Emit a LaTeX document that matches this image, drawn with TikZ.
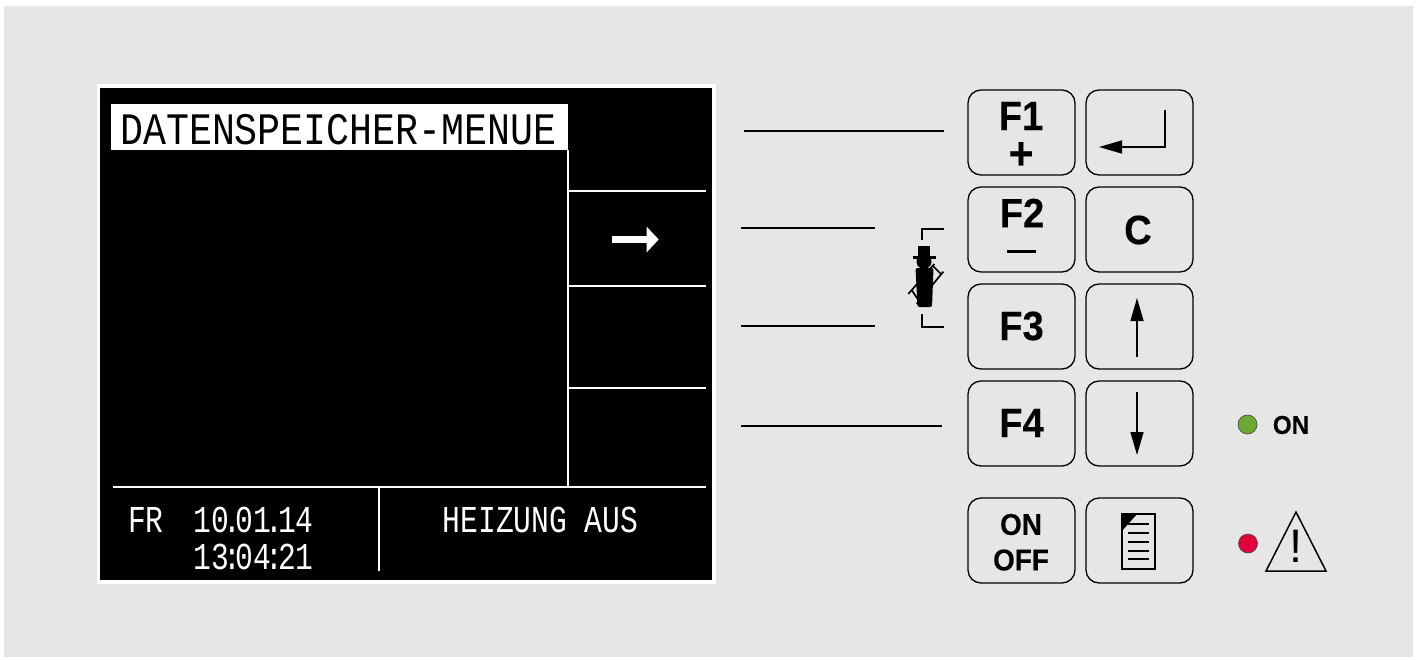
\documentclass[tikz,border=0pt]{standalone}
\usepackage{fontspec}
\setmainfont{Liberation Sans}
\newfontfamily\titlefont[FakeStretch=0.85]{Liberation Mono}
\newfontfamily\lcdfont[FakeStretch=0.78]{Liberation Mono}
\newfontfamily\keyfont[UprightFont=* Bold,FakeStretch=0.93,FakeBold=0.25]{Liberation Sans}
\usetikzlibrary{arrows.meta}
\definecolor{panel}{HTML}{E6E6E6}
\definecolor{ledgreen}{HTML}{6AAA32}
\definecolor{ledred}{HTML}{E2003C}
\tikzset{
  keybox/.style={draw=black,line width=1.3pt,rounded corners=13pt,fill=panel,minimum width=107pt,minimum height=85pt,inner sep=0pt,align=center},
  keylabel/.style={inner sep=0pt,align=center,font=\keyfont\fontsize{41}{39}\selectfont},
  smalllabel/.style={inner sep=0pt,font=\keyfont\fontsize{30}{30}\selectfont},
  lcdline/.style={draw=white,line width=2pt},
  lead/.style={draw=black,line width=2pt},
  lcdtext/.style={text=white,inner sep=0pt,anchor=base west,font=\lcdfont\fontsize{38}{38}\selectfont},
  thinarrow/.style={draw=black,line width=1.5pt,-{Triangle[length=23pt,width=13pt]}},
  led/.style={circle,draw=black!70,line width=.7pt,minimum size=19pt,inner sep=0pt},
}
\begin{document}
\begin{tikzpicture}[x=1pt,y=-1pt]
\useasboundingbox (0,0) rectangle (1419,659);
\fill[panel] (4,6) rectangle (1412.5,657);
% display
\fill[white] (97,84) rectangle (716,584);
\fill[black] (100,88) rectangle (712,580);
\node[fill=white,minimum width=457pt,minimum height=46pt,inner sep=0pt,anchor=north west] (title) at (111,104) {};
\node[inner sep=0pt,anchor=base west,font=\titlefont\fontsize{45}{45}\selectfont] (titletext) at (120,144.5) {DATENSPEICHER-MENUE};
\draw[lcdline] (568,150) -- (568,486);
\draw[lcdline] (568,191) -- (706,191);
\draw[lcdline] (568,286) -- (706,286);
\draw[lcdline] (568,388) -- (706,388);
\draw[lcdline] (113,487) -- (706,487);
\draw[lcdline] (379,488) -- (379,571);
\coordinate (as) at (612,239.5); \coordinate (ae) at (658.7,239.5);
\draw[draw=white,line width=7pt,-{Triangle[length=12pt,width=25pt]}] (as) -- (ae);
\node[lcdtext] (day) at (128,532) {FR};
\node[lcdtext] (date) at (193.5,532) {10\kern-5.6pt.\kern-5.6pt01\kern-5.6pt.\kern-5.6pt14};
\node[lcdtext] (time) at (193.5,569) {13\kern-5.6pt:\kern-5.6pt04\kern-5.6pt:\kern-5.6pt21};
\node[lcdtext] (status) at (442.5,532) {HEIZUNG AUS};
% keys
\node[keybox] (f1) at (1021.5,132.5) {};
\node[keybox] (enter) at (1139.5,132.5) {};
\node[keybox] (f2) at (1021.5,229.5) {};
\node[keybox] (c) at (1139.5,229.5) {};
\node[keybox] (f3) at (1021.5,326.5) {};
\node[keybox] (up) at (1139.5,326.5) {};
\node[keybox] (f4) at (1021.5,423.5) {};
\node[keybox] (down) at (1139.5,423.5) {};
\node[keybox] (onoff) at (1021.5,540.5) {};
\node[keybox] (doc) at (1139.5,540.5) {};
\node[keylabel] (f1t) at (1021,135.5) {F1\\{\fontsize{46}{39}\selectfont +}};
\node[keylabel] (f2t) at (1022,213) {F2};
\draw[line width=3pt] (1007,251) -- (1036,251);
\node[keylabel] (ct) at (1138,230) {C};
\node[keylabel] (f3t) at (1021.5,326) {F3};
\node[keylabel] (f4t) at (1021.5,423) {F4};
\node[smalllabel] (ont) at (1021,524.5) {ON};
\node[smalllabel] (offt) at (1021,560) {OFF};
% key symbols
\coordinate (e1) at (1165,110); \coordinate (e2) at (1165,147); \coordinate (e3) at (1099,147);
\draw[thinarrow] (e1) -- (e2) -- (e3);
\coordinate (u1) at (1137,357); \coordinate (u2) at (1137,298);
\draw[thinarrow] (u1) -- (u2);
\coordinate (d1) at (1137,392); \coordinate (d2) at (1137,455);
\draw[thinarrow] (d1) -- (d2);
% document icon
\draw[line width=2pt] (1122,514) rectangle (1155,569);
\fill (1121,513) -- (1138,513) -- (1121,532) -- cycle;
\foreach \yy in {524,533,542,551,559} \draw[line width=1.3pt] (1128,\yy) -- (1149,\yy);
% leads
\coordinate (l1a) at (744,131); \coordinate (l1b) at (944,131);
\coordinate (l2a) at (741,228); \coordinate (l2b) at (875,228);
\coordinate (l3a) at (741,326); \coordinate (l3b) at (875,326);
\coordinate (l4a) at (741,426); \coordinate (l4b) at (942,426);
\draw[lead] (l1a) -- (l1b);
\draw[lead] (l2a) -- (l2b);
\draw[lead] (l3a) -- (l3b);
\draw[lead] (l4a) -- (l4b);
% sweep
\draw[line width=1.6pt] (922,240) -- (922,229) -- (944,229);
\draw[line width=1.6pt] (922,314) -- (922,327) -- (944,327);
\draw[line width=1.7pt] (943.3,271.7) -- (916.7,304);
\draw[line width=1.7pt] (934.3,264) -- (908.3,294);
\draw[line width=1.7pt] (933,266) -- (941,274);
\draw[line width=1.7pt] (911.7,290) -- (918.3,300);
\fill (918,246) rectangle (930,256);
\fill (913,255.5) rectangle (936,258.5);
\fill (924,261.5) circle (7.5);
\fill[rounded corners=2pt] (915.5,268) -- (933.5,268) -- (932,307) -- (917.5,307) -- cycle;
% LEDs
\node[led,fill=ledgreen] (gl) at (1247.5,424.5) {};
\node[inner sep=0pt,anchor=center,font=\keyfont\fontsize{26}{26}\selectfont] (on) at (1291,425) {ON};
\node[led,fill=ledred] (rl) at (1248,543.5) {};
\draw[line width=1.5pt,line join=miter] (1296,512) -- (1326,571) -- (1266,571) -- cycle;
\node[inner sep=0pt,font=\fontsize{47}{47}\selectfont] (warn) at (1296,546) {!};
\end{tikzpicture}
\end{document}
